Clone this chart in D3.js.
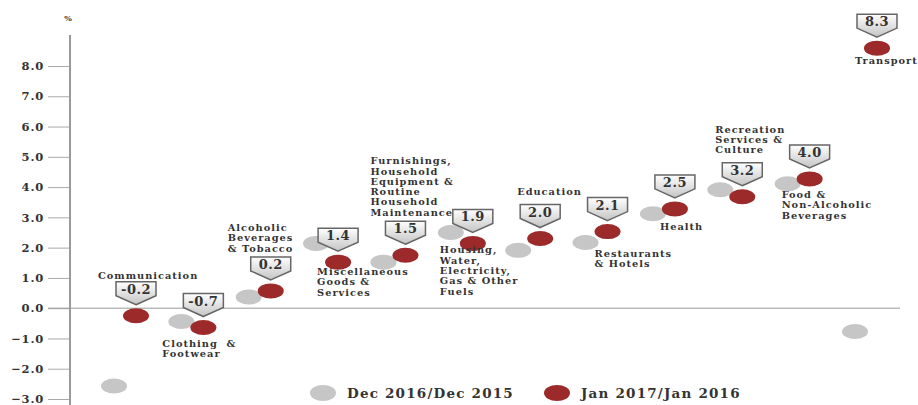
<!DOCTYPE html>
<html>
<head>
<meta charset="utf-8">
<script src="https://cdn.jsdelivr.net/npm/d3@7"></script>
<style>
  body { margin: 0; background: #fff; }
  svg text { font-family: "DejaVu Serif", serif; font-weight: bold; fill: #333; }
</style>
</head>
<body>
<svg id="chart" width="918" height="405"></svg>
<script>
// categories, left to right (each label line is one entry)
const categories = [
  ["Communication"],
  ["Clothing  &", "Footwear"],
  ["Alcoholic", "Beverages", "& Tobacco"],
  ["Miscellaneous", "Goods &", "Services"],
  ["Furnishings,", "Household", "Equipment &", "Routine", "Household", "Maintenance"],
  ["Housing,", "Water,", "Electricity,", "Gas & Other", "Fuels"],
  ["Education"],
  ["Restaurants", "& Hotels"],
  ["Health"],
  ["Recreation", "Services &", "Culture"],
  ["Food &", "Non-Alcoholic", "Beverages"],
  ["Transport"]
];
// Dec 2016/Dec 2015 (grey dots)
const decValues = [-2.57, -0.44, 0.37, 2.14, 1.52, 2.5, 1.91, 2.17, 3.12, 3.91, 4.11, -0.77];
// Jan 2017/Jan 2016 (red dots), where the dots sit in the picture
const janValues = [-0.25, -0.64, 0.57, 1.52, 1.75, 2.14, 2.3, 2.53, 3.28, 3.68, 4.27, 8.59];
// the numbers printed in the callouts
const janLabels = ["-0.2", "-0.7", "0.2", "1.4", "1.5", "1.9", "2.0", "2.1", "2.5", "3.2", "4.0", "8.3"];
const yTicks = [8, 7, 6, 5, 4, 3, 2, 1, 0, -1, -2, -3];
const seriesNames = ["Dec 2016/Dec 2015", "Jan 2017/Jan 2016"];

// where each category label goes, relative to its red dot (layout only)
const labelOffsets = [
  [-38, -37], [-41, 19], [-43, -60], [-21, 13], [-35, -91], [-33, 10],
  [-23, -44], [-13, 25], [-15, 21], [-27, -64], [-28, 19], [-22, 16]
];

const width = 918;
const height = 405;
const padding = { top: 66, bottom: 6, left: 70, right: 18 };
const colors = { dec: "#c6c6c6", jan: "#9c2a2b" };

const svg = d3.select("#chart");

const yScale = d3.scaleLinear()
  .domain([-3, 8])
  .range([height - padding.bottom, padding.top]);

const xScale = d3.scalePoint()
  .domain(d3.range(categories.length))
  .range([125, 866]);

// gradient for the callout boxes
const defs = svg.append("defs");
const grad = defs.append("linearGradient")
  .attr("id", "calloutFill")
  .attr("x1", 0).attr("y1", 0).attr("x2", 0).attr("y2", 1);
grad.append("stop").attr("offset", "0%").attr("stop-color", "#ffffff");
grad.append("stop").attr("offset", "100%").attr("stop-color", "#c4c4c4");

// y axis
const yAxisGroup = svg.append("g")
  .attr("transform", `translate(${padding.left}, 0)`);
yAxisGroup.call(d3.axisLeft(yScale)
  .tickValues(yTicks)
  .tickSize(22)
  .tickPadding(4)
  .tickFormat(d3.format(".1f")));
yAxisGroup.select(".domain").remove();
yAxisGroup.selectAll(".tick line").attr("stroke", "#aaa").attr("stroke-width", 1);
yAxisGroup.selectAll(".tick text")
  .attr("font-size", 11.5)
  .attr("letter-spacing", 0.8)
  .attr("font-family", "DejaVu Serif")
  .attr("fill", "#333");
yAxisGroup.append("line")
  .attr("x1", 0).attr("x2", 0)
  .attr("y1", 35).attr("y2", height)
  .attr("stroke", "#9a9a9a")
  .attr("stroke-width", 2);

svg.append("text")
  .attr("x", padding.left - 2)
  .attr("y", 21)
  .attr("text-anchor", "middle")
  .attr("font-size", 8)
  .text("%");

// zero line
svg.append("line")
  .attr("x1", 48).attr("x2", 900)
  .attr("y1", yScale(0)).attr("y2", yScale(0))
  .attr("stroke", "#999")
  .attr("stroke-width", 1);

const dotRx = 13;
const dotRy = 7.5;
const decOffset = -11;
const janOffset = 11;

// grey dots
svg.append("g").selectAll("ellipse")
  .data(decValues)
  .join("ellipse")
  .attr("cx", (d, i) => xScale(i) + decOffset)
  .attr("cy", (d) => yScale(d))
  .attr("rx", dotRx)
  .attr("ry", dotRy)
  .attr("fill", colors.dec);

// red dots
svg.append("g").selectAll("ellipse")
  .data(janValues)
  .join("ellipse")
  .attr("cx", (d, i) => xScale(i) + janOffset)
  .attr("cy", (d) => yScale(d))
  .attr("rx", dotRx)
  .attr("ry", dotRy)
  .attr("fill", colors.jan);

// callouts above the red dots
const boxW = 40;
const boxH = 14;
const pointH = 9;
const callouts = svg.append("g").selectAll("g")
  .data(janValues)
  .join("g")
  .attr("transform", (d, i) => `translate(${xScale(i) + janOffset}, ${yScale(d) - 11})`);

callouts.append("path")
  .attr("d", `M0,0 L${boxW / 2},${-pointH} L${boxW / 2},${-pointH - boxH} L${-boxW / 2},${-pointH - boxH} L${-boxW / 2},${-pointH} Z`)
  .attr("fill", "url(#calloutFill)")
  .attr("stroke", "#666")
  .attr("stroke-width", 1.5)
  .attr("stroke-linejoin", "miter");

callouts.append("text")
  .attr("text-anchor", "middle")
  .attr("y", -pointH - 2)
  .attr("font-size", 13)
  .attr("letter-spacing", 0.5)
  .text((d, i) => janLabels[i]);

// category names
const labels = svg.append("g").selectAll("text")
  .data(categories)
  .join("text")
  .attr("font-size", 9.8)
  .attr("letter-spacing", 1)
  .attr("transform", (d, i) => {
    const x = xScale(i) + janOffset + labelOffsets[i][0];
    const y = yScale(janValues[i]) + labelOffsets[i][1];
    return `translate(${x}, ${y})`;
  });
labels.selectAll("tspan")
  .data((d) => d)
  .join("tspan")
  .attr("x", 0)
  .attr("y", (d, j) => j * 10.3)
  .style("white-space", "pre")
  .text((d) => d);

// legend
const legend = svg.append("g").attr("transform", "translate(0, 393)");
const legendItems = [
  { name: seriesNames[0], color: colors.dec, x: 323 },
  { name: seriesNames[1], color: colors.jan, x: 557 }
];
legendItems.forEach((item) => {
  legend.append("ellipse")
    .attr("cx", item.x)
    .attr("cy", 0)
    .attr("rx", 13)
    .attr("ry", 8)
    .attr("fill", item.color);
  legend.append("text")
    .attr("x", item.x + 24)
    .attr("y", 5)
    .attr("font-size", 13.5)
    .attr("letter-spacing", 1.2)
    .text(item.name);
});
</script>
</body>
</html>
